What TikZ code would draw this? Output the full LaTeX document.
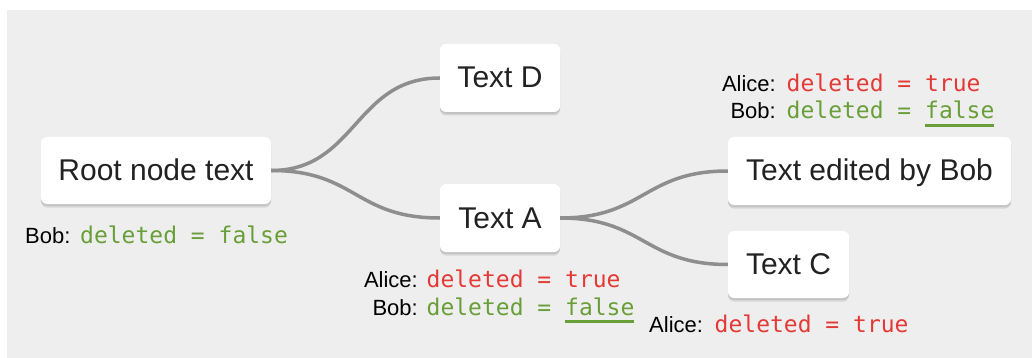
\documentclass[tikz,border=0pt]{standalone}
\usepackage{fontspec}
\setmainfont{Liberation Sans}
\newfontfamily\monof{DejaVu Sans Mono}
\usetikzlibrary{shadows}
\definecolor{bg}{HTML}{EEEEEE}
\definecolor{linkc}{HTML}{8E8E8E}
\definecolor{redc}{HTML}{E53935}
\definecolor{greenc}{HTML}{689F38}
\definecolor{inkc}{HTML}{222222}
\newcommand\ulword[1]{\setbox0\hbox{#1}\rlap{\rule[-8pt]{\wd0}{3pt}}\box0}
\tikzset{
  box/.style={fill=white, rounded corners=6pt, inner sep=0pt,
    general shadow={fill=black, opacity=0.10, shadow xshift=0pt, shadow yshift=-3.5pt},
    drop shadow={opacity=0.22, shadow xshift=0pt, shadow yshift=-1.8pt},
    font=\fontsize{30}{35}\selectfont, text=inkc, text height=21pt, text depth=1pt},
  conn/.style={draw=linkc, line width=3.5pt},
  who/.style={font=\fontsize{22}{26}\selectfont, inner sep=0pt, text=black},
  code/.style={font=\fontsize{23}{26}\selectfont\monof, inner sep=0pt},
  codered/.style={code, text=redc},
  codegreen/.style={code, text=greenc},
}
\begin{document}
\begin{tikzpicture}[x=1pt,y=-1pt]
\useasboundingbox (0,0) rectangle (1032,358);
\fill[bg] (7,10) rectangle (1032,358);

% nodes
\node[box, minimum width=230pt, minimum height=67pt] (root) at (156,170.5) {Root node text};
\node[box, minimum width=120pt, minimum height=68pt] (D) at (500,78) {Text D};
\node[box, minimum width=120pt, minimum height=68pt] (A) at (500,218) {Text A};
\node[box, minimum width=283pt, minimum height=68pt] (B) at (869.5,171) {Text edited by Bob};
\node[box, minimum width=121pt, minimum height=67pt] (C) at (788.5,264.5) {Text C};

% connectors
\draw[conn] (root.east) .. controls +(85,0) and +(-85,0) .. (D.west);
\draw[conn] (root.east) .. controls +(85,0) and +(-85,0) .. (A.west);
\draw[conn] (A.east) .. controls +(84,0) and +(-84,0) .. (B.west);
\draw[conn] (A.east) .. controls +(84,0) and +(-84,0) .. (C.west);

% labels under root
\node[who, anchor=base west] (rb) at (25,243) {Bob:};
\node[codegreen, anchor=base west] (rbc) at (80,243) {deleted = false};

% labels under Text A
\node[who, anchor=base east] (aa) at (418,287) {Alice:};
\node[codered, anchor=base west] (aac) at (426.5,287) {deleted = true};
\node[who, anchor=base east] (ab) at (418,315) {Bob:};
\node[codegreen, anchor=base west] (abc) at (426.5,315) {deleted = \ulword{false}};

% labels above Text edited by Bob
\node[who, anchor=base east] (ba) at (776,92) {Alice:};
\node[codered, anchor=base west] (bac) at (786.5,92) {deleted = true};
\node[who, anchor=base east] (bb) at (776,119) {Bob:};
\node[codegreen, anchor=base west] (bbc) at (786.5,119) {deleted = \ulword{false}};

% label under Text C
\node[who, anchor=base west] (ca) at (649,332) {Alice:};
\node[codered, anchor=base west] (cac) at (714.5,332) {deleted = true};
\end{tikzpicture}
\end{document}
